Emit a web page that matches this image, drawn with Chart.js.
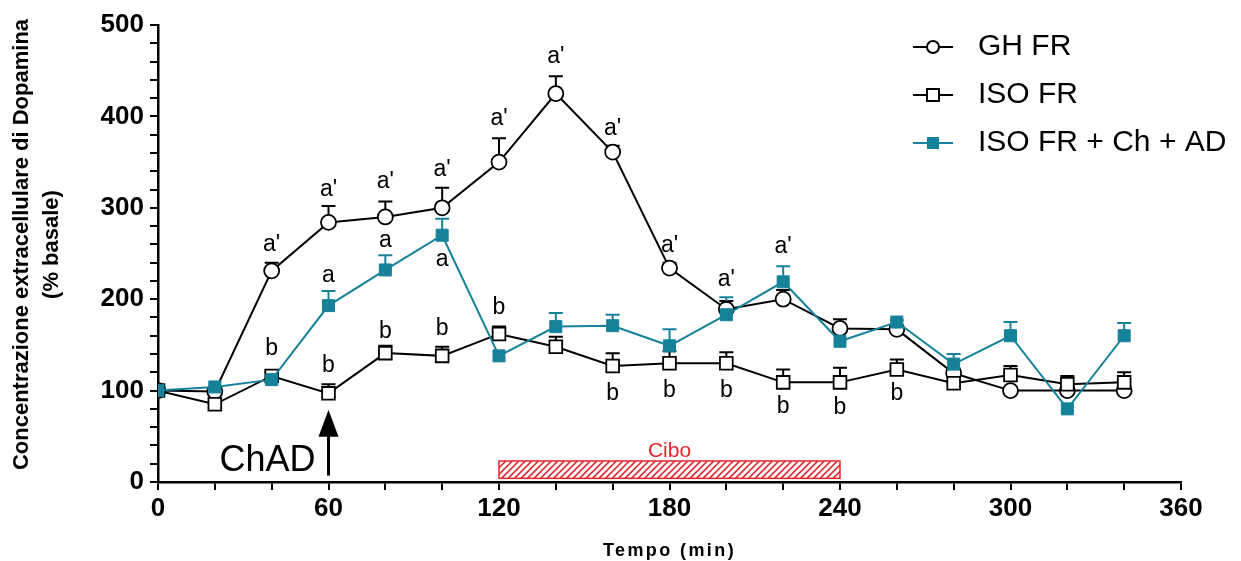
<!DOCTYPE html>
<html>
<head>
<meta charset="utf-8">
<script src="https://cdn.jsdelivr.net/npm/chart.js@4.4.1/dist/chart.umd.min.js"></script>
<style>
  html, body { margin: 0; padding: 0; background: #fff; }
  #wrap { width: 1241px; height: 561px; position: relative; }
</style>
</head>
<body>
<div id="wrap"><canvas id="grafico" width="1241" height="561"></canvas></div>
<script>
// tempi di campionamento (min)
var tempi = [0, 20, 40, 60, 80, 100, 120, 140, 160, 180, 200, 220, 240, 260, 280, 300, 320, 340];

// medie (% basale) e SEM
var ghFR      = [100, 99, 231, 284, 290, 300, 350, 425, 361, 234, 189, 200, 168, 167, 119, 100, 100, 100];
var ghFRErr   = [0, 0, 9, 18, 17, 22, 26, 19, 7, 6, 9, 10, 10, 3, 5, 2, 0, 0];
var isoFR     = [100, 85, 116, 97, 141, 138, 162, 148, 127, 130, 130, 109, 109, 123, 108, 117, 107, 109];
var isoFRErr  = [0, 0, 4, 10, 8, 10, 8, 11, 14, 13, 12, 14, 16, 11, 8, 10, 9, 11];
var isoChAD    = [100, 104, 112, 193, 232, 270, 138, 170, 171, 149, 183, 219, 154, 175, 129, 160, 80, 160];
var isoChADErr = [0, 0, 0, 16, 16, 18, 0, 15, 12, 18, 19, 17, 10, 2, 11, 15, 0, 14];

// lettere di significativita: tempo, livello, testo
var lettereX = [40, 40, 60, 60, 60, 80, 80, 80, 100, 100, 100, 120, 120, 140, 160, 160, 180, 180, 200, 200, 220, 220, 240, 260];
var lettereY = [260, 146, 320, 226, 127, 329, 264, 165, 342, 243, 168, 398, 191, 465, 387, 97, 259, 100, 221, 100, 258, 82, 81, 97];
var lettereT = ["a'", "b", "a'", "a", "b", "a'", "a", "b", "a'", "a", "b", "a'", "b", "a'", "a'", "b", "a'", "b", "a'", "b", "a'", "b", "b", "b"];

// periodo cibo e iniezione
var ciboInizio = 120, ciboFine = 240;
var iniezione = 60;

var FONT = "'Liberation Sans', Arial, sans-serif";
var TEAL = '#16829a';
var ROSSO = '#e3262e';

function punti(valori){
	return tempi.map(function(t, i){ return {x: t, y: valori[i]}; });
}

var erroriPlugin = {
	id: 'errori',
	beforeDatasetsDraw: function(chart){
		var ctx = chart.ctx, xs = chart.scales.x, ys = chart.scales.y;
		chart.data.datasets.forEach(function(ds){
			ctx.save();
			ctx.strokeStyle = ds.borderColor;
			ctx.lineWidth = 2;
			ds.errori.forEach(function(e, i){
				if (!e) return;
				var px = xs.getPixelForValue(ds.data[i].x);
				var y0 = ys.getPixelForValue(ds.data[i].y);
				var y1 = ys.getPixelForValue(ds.data[i].y + e);
				ctx.beginPath();
				ctx.moveTo(px, y0);
				ctx.lineTo(px, y1);
				ctx.moveTo(px - 7, y1);
				ctx.lineTo(px + 7, y1);
				ctx.stroke();
			});
			ctx.restore();
		});
	}
};

var decorPlugin = {
	id: 'decor',
	afterDraw: function(chart){
		var ctx = chart.ctx, xs = chart.scales.x, ys = chart.scales.y;
		var area = chart.chartArea;
		ctx.save();

		// lettere
		ctx.fillStyle = '#000';
		ctx.font = '23px ' + FONT;
		ctx.textAlign = 'center';
		ctx.textBaseline = 'middle';
		lettereT.forEach(function(t, i){
			ctx.fillText(t, xs.getPixelForValue(lettereX[i]), ys.getPixelForValue(lettereY[i]));
		});

		// barra cibo tratteggiata
		var bx0 = xs.getPixelForValue(ciboInizio), bx1 = xs.getPixelForValue(ciboFine);
		var by0 = ys.getPixelForValue(23), by1 = ys.getPixelForValue(4);
		ctx.save();
		ctx.beginPath();
		ctx.rect(bx0, by0, bx1 - bx0, by1 - by0);
		ctx.clip();
		ctx.strokeStyle = ROSSO;
		ctx.lineWidth = 1.6;
		for (var hx = bx0 - 30; hx < bx1 + 30; hx += 6.5) {
			ctx.beginPath();
			ctx.moveTo(hx, by1);
			ctx.lineTo(hx + (by1 - by0), by0);
			ctx.stroke();
		}
		ctx.restore();
		ctx.strokeStyle = ROSSO;
		ctx.lineWidth = 1.5;
		ctx.strokeRect(bx0, by0, bx1 - bx0, by1 - by0);
		ctx.fillStyle = ROSSO;
		ctx.font = '21px ' + FONT;
		ctx.textBaseline = 'alphabetic';
		ctx.fillText('Cibo', (bx0 + bx1) / 2, by0 - 4);

		// freccia ChAD
		var ax = xs.getPixelForValue(iniezione);
		var aBase = ys.getPixelForValue(7), aTip = ys.getPixelForValue(79);
		ctx.strokeStyle = '#000';
		ctx.fillStyle = '#000';
		ctx.lineWidth = 3;
		ctx.beginPath();
		ctx.moveTo(ax, aBase);
		ctx.lineTo(ax, aTip + 20);
		ctx.stroke();
		ctx.beginPath();
		ctx.moveTo(ax, aTip);
		ctx.lineTo(ax - 10, aTip + 27);
		ctx.lineTo(ax + 10, aTip + 27);
		ctx.closePath();
		ctx.fill();
		ctx.font = '36px ' + FONT;
		ctx.textAlign = 'right';
		ctx.fillText('ChAD', ax - 13, 471);

		// titoli degli assi
		ctx.textAlign = 'center';
		ctx.font = 'bold 18px ' + FONT;
		ctx.letterSpacing = '2.4px';
		ctx.fillText('Tempo (min)', (area.left + area.right) / 2, 556);
		ctx.letterSpacing = '0px';
		ctx.save();
		ctx.translate(22, (area.top + area.bottom) / 2 - 9);
		ctx.rotate(-Math.PI / 2);
		ctx.font = 'bold 22px ' + FONT;
		ctx.textBaseline = 'middle';
		ctx.fillText('Concentrazione extracellulare di Dopamina', 0, 0);
		ctx.fillText('(% basale)', 0, 30);
		ctx.restore();

		// legenda
		ctx.textAlign = 'left';
		ctx.textBaseline = 'middle';
		ctx.font = '30px ' + FONT;
		chart.data.datasets.forEach(function(ds, i){
			var ly = 47 + i * 48;
			ctx.strokeStyle = ds.borderColor;
			ctx.lineWidth = 2;
			ctx.beginPath();
			ctx.moveTo(913, ly);
			ctx.lineTo(953, ly);
			ctx.stroke();
			ctx.fillStyle = ds.pointBackgroundColor;
			ctx.beginPath();
			if (ds.pointStyle === 'circle') {
				ctx.arc(933, ly, 6, 0, Math.PI * 2);
			} else {
				ctx.rect(927, ly - 6, 12, 12);
			}
			ctx.fill();
			if (ds.pointStyle === 'circle' || ds.pointBackgroundColor === '#fff') ctx.stroke();
			ctx.fillStyle = '#000';
			ctx.fillText(ds.label, 978, ly);
		});

		ctx.restore();
	}
};

var ctx = document.getElementById('grafico').getContext('2d');
var grafico = new Chart(ctx, {
	type: 'line',
	data: {
		datasets: [
			{
				label: 'GH FR', data: punti(ghFR), errori: ghFRErr, order: 2,
				borderColor: '#000', borderWidth: 2, pointStyle: 'circle',
				pointRadius: 7.5, pointBorderWidth: 1.8,
				pointBackgroundColor: '#fff', pointBorderColor: '#000'
			},
			{
				label: 'ISO FR', data: punti(isoFR), errori: isoFRErr, order: 1,
				borderColor: '#000', borderWidth: 2, pointStyle: 'rect',
				pointRadius: 9, pointBorderWidth: 1.8,
				pointBackgroundColor: '#fff', pointBorderColor: '#000'
			},
			{
				label: 'ISO FR + Ch + AD', data: punti(isoChAD), errori: isoChADErr, order: 0,
				borderColor: TEAL, borderWidth: 2, pointStyle: 'rect',
				pointRadius: 8.5, pointBorderWidth: 1,
				pointBackgroundColor: TEAL, pointBorderColor: TEAL
			}
		]
	},
	options: {
		responsive: false,
		animation: false,
		layout: { padding: { top: 25, right: 60, left: 0, bottom: 0 } },
		plugins: { legend: { display: false }, tooltip: { enabled: false } },
		scales: {
			x: {
				type: 'linear', min: 0, max: 360,
				afterFit: function(s){ s.height = 79; },
				ticks: {
					stepSize: 20, autoSkip: false, maxRotation: 0, padding: 3,
					color: '#000', font: { family: FONT, size: 26, weight: 'bold' },
					callback: function(v){ return v % 60 === 0 ? String(v) : ''; }
				},
				grid: { drawOnChartArea: false, drawTicks: true, tickLength: 8, color: '#000', lineWidth: 2 },
				border: { color: '#000', width: 2.5 }
			},
			y: {
				min: 0, max: 500,
				afterFit: function(s){ s.width = 158; },
				ticks: {
					stepSize: 20, autoSkip: false, padding: 6,
					color: '#000', font: { family: FONT, size: 26, weight: 'bold' },
					callback: function(v){ return v % 100 === 0 ? String(v) : ''; }
				},
				grid: { drawOnChartArea: false, drawTicks: true, tickLength: 8, color: '#000', lineWidth: 2 },
				border: { color: '#000', width: 2.5 }
			}
		}
	},
	plugins: [erroriPlugin, decorPlugin]
});
</script>
</body>
</html>
